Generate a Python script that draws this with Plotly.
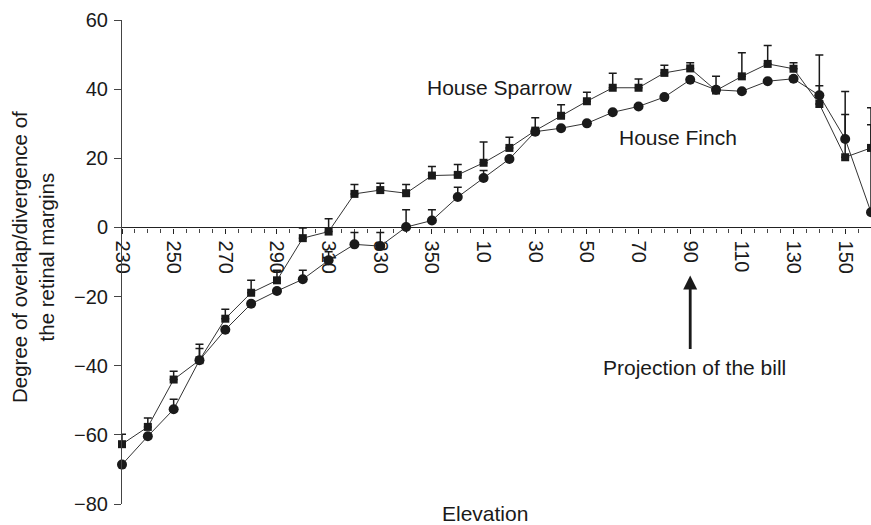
import plotly.graph_objects as go

# Elevation positions (230..350, 0..160 in 10 degree steps)
elevation = [230, 240, 250, 260, 270, 280, 290, 300, 310, 320, 330, 340, 350,
             0, 10, 20, 30, 40, 50, 60, 70, 80, 90, 100, 110, 120, 130, 140, 150, 160]
tick_labels = ["230", "250", "270", "290", "310", "330", "350",
               "10", "30", "50", "70", "90", "110", "130", "150"]

sparrow = [-62.7, -57.7, -44.0, -38.4, -26.4, -18.9, -15.3, -3.1, -1.2, 9.7,
           10.8, 9.9, 15.0, 15.2, 18.7, 23.0, 28.0, 32.3, 36.5, 40.4,
           40.4, 44.7, 46.0, 39.6, 43.7, 47.3, 45.9, 35.7, 20.3, 23.0]
sparrow_err = [2.9, 2.6, 2.4, 4.6, 2.7, 3.6, 2.9, 2.9, 3.7, 2.7,
               2.0, 2.5, 2.6, 3.0, 6.0, 3.1, 3.7, 3.2, 2.6, 4.2,
               2.5, 2.2, 1.6, 4.1, 6.8, 5.3, 1.7, 5.3, 12.4, 11.6]

finch = [-68.6, -60.4, -52.6, -38.4, -29.6, -22.1, -18.4, -15.0, -9.5, -4.9,
         -5.4, 0.1, 2.0, 8.8, 14.3, 19.8, 27.7, 28.7, 30.1, 33.3,
         35.0, 37.7, 42.7, 39.8, 39.4, 42.3, 43.0, 38.2, 25.6, 4.4]
finch_err = [0, 0, 2.9, 3.4, 0, 0, 0, 2.6, 2.5, 3.4,
             3.9, 5.0, 3.1, 2.8, 2.2, 0, 0, 0, 0, 0,
             0, 0, 0, 0, 0, 0, 0, 11.7, 13.7, 25.3]

xi = list(range(len(elevation)))
zeros = [0] * len(elevation)
tick_pos = [i for i, e in enumerate(elevation) if str(e) in tick_labels]

FONT = "Liberation Sans, Arial, sans-serif"
INK = "#1a1a1a"

fig = go.Figure()
fig.add_trace(go.Scatter(
    x=xi, y=finch, mode="lines+markers", name="House Finch",
    line=dict(color="#333333", width=1),
    marker=dict(symbol="circle", size=10, color=INK),
    error_y=dict(type="data", symmetric=False, array=finch_err, arrayminus=zeros,
                 color=INK, thickness=1.5, width=4),
    cliponaxis=False,
))
fig.add_trace(go.Scatter(
    x=xi, y=sparrow, mode="lines+markers", name="House Sparrow",
    line=dict(color="#333333", width=1),
    marker=dict(symbol="square", size=8, color=INK),
    error_y=dict(type="data", symmetric=False, array=sparrow_err, arrayminus=zeros,
                 color=INK, thickness=1.5, width=4),
    cliponaxis=False,
))

fig.update_layout(
    width=871, height=525,
    margin=dict(l=122, r=0, t=20, b=21, autoexpand=False),
    paper_bgcolor="white", plot_bgcolor="white",
    showlegend=False,
    font=dict(family=FONT, color=INK),
    xaxis=dict(
        range=[0, 29], anchor="free", position=80 / 140, automargin=False,
        showline=True, linecolor="#222", linewidth=1.2,
        tickmode="array", tickvals=tick_pos, ticktext=tick_labels,
        ticks="outside", ticklen=5, tickcolor="#222", tickwidth=1,
        tickangle=90, tickfont=dict(size=20, family=FONT, color=INK),
        ticklabelstandoff=3,
        minor=dict(tickmode="linear", tick0=0, dtick=0.5, ticks="outside",
                   ticklen=4, tickcolor="#444", tickwidth=1),
        showgrid=False, zeroline=False, layer="below traces",
    ),
    yaxis=dict(
        range=[-80, 60], tickvals=[-80, -60, -40, -20, 0, 20, 40, 60],
        automargin=False,
        showline=True, linecolor="#444", linewidth=1,
        ticks="outside", ticklen=7, tickcolor="#444",
        tickfont=dict(size=20, family=FONT, color=INK),
        ticklabelstandoff=2,
        showgrid=False, zeroline=False,
    ),
)

fig.add_annotation(text="Degree of overlap/divergence of<br>the retinal margins",
                   xref="paper", yref="paper", x=0, y=(504 - 257) / 484, xshift=-89,
                   textangle=-90, showarrow=False, xanchor="center", yanchor="middle",
                   font=dict(size=20.5, family=FONT, color=INK))
fig.add_annotation(text="Elevation", xref="paper", yref="paper",
                   x=(484.7 - 122) / 749, y=(504 - 513) / 484, showarrow=False,
                   xanchor="center", yanchor="middle",
                   font=dict(size=21, family=FONT, color=INK))
fig.add_annotation(text="House Sparrow", xref="paper", yref="paper",
                   x=(499.7 - 122) / 749, y=(504 - 87) / 484, showarrow=False,
                   xanchor="center", yanchor="middle",
                   font=dict(size=21, family=FONT, color=INK))
fig.add_annotation(text="House Finch", xref="paper", yref="paper",
                   x=(678.3 - 122) / 749, y=(504 - 137) / 484, showarrow=False,
                   xanchor="center", yanchor="middle",
                   font=dict(size=21, family=FONT, color=INK))
fig.add_annotation(text="Projection of the bill", xref="paper", yref="paper",
                   x=(694.7 - 122) / 749, y=(504 - 367) / 484, showarrow=False,
                   xanchor="center", yanchor="middle",
                   font=dict(size=21, family=FONT, color=INK))
fig.add_annotation(text="", x=elevation.index(90), y=-13.9, xref="x", yref="y",
                   showarrow=True, ax=0, ay=75, axref="pixel", ayref="pixel",
                   arrowhead=2, arrowsize=1, arrowwidth=2.8, arrowcolor=INK)

fig.write_html("out.html", config={"displayModeBar": False},
               post_script="document.body.style.margin='0px';document.body.style.overflow='hidden';")
